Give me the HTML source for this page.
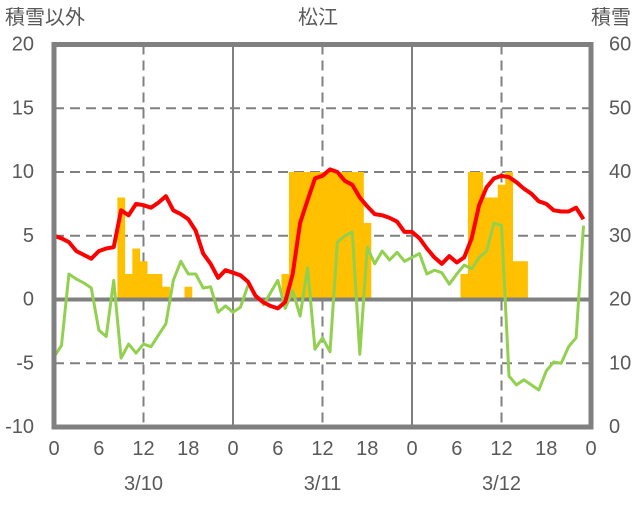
<!DOCTYPE html>
<html><head><meta charset="utf-8"><style>
body{margin:0;background:#fff;}
svg text{font-family:"Liberation Sans","Noto Sans CJK JP",sans-serif;fill:#595959;font-size:20px;}
</style></head><body>
<svg id="chart" width="636" height="501" xmlns="http://www.w3.org/2000/svg">
<g id="grid"></g><g id="bars"></g><g id="lines"></g><g id="frame"></g><g id="labels"></g>
</svg>
<script>
const hours=[...Array(72).keys()];
const leftTicks=[20,15,10,5,0,-5,-10];
const rightTicks=[60,50,40,30,20,10,0];
const xTickLabels=["0","6","12","18","0","6","12","18","0","6","12","18","0"];
const dateLabels=["3/10","3/11","3/12"];
const snowHours=[9,10,11,12,13,14,15,18,31,32,33,34,35,36,37,38,39,40,41,42,55,56,57,58,59,60,61,62,63];
const snowValues=[8,2,4,3,2,2,1,1,2,10,10,10,10,10,10,10,10,10,10,6,2,10,10,8,8,9,10,3,3];
const redValues=[5.0,4.8,4.5,3.8,3.5,3.2,3.8,4.0,4.1,7.0,6.6,7.5,7.4,7.2,7.6,8.1,7.0,6.7,6.3,5.4,3.6,2.8,1.7,2.3,2.1,1.9,1.4,0.3,-0.2,-0.5,-0.7,-0.2,2.0,6.0,7.8,9.5,9.7,10.2,10.0,9.3,9.0,8.0,7.3,6.7,6.6,6.4,6.1,5.3,5.3,4.8,4.0,3.3,2.8,3.4,2.9,3.3,4.8,7.4,8.8,9.5,9.7,9.6,9.2,8.7,8.3,7.7,7.5,7.0,6.9,6.9,7.2,6.3];
const greenValues=[-4.5,-3.6,2.0,1.6,1.3,0.9,-2.4,-2.9,1.5,-4.6,-3.5,-4.2,-3.5,-3.7,-2.8,-1.9,1.5,3.0,2.0,2.0,0.9,1.0,-1.0,-0.5,-1.0,-0.6,1.1,null,-0.5,0.5,1.5,-0.7,0.7,-1.3,2.5,-3.9,-3.0,-4.1,4.5,5.0,5.3,-4.3,4.1,2.8,3.8,3.1,3.7,3.0,3.3,3.6,2.0,2.3,2.1,1.2,2.0,2.7,2.4,3.3,3.8,6.0,5.8,-6.0,-6.7,-6.3,-6.7,-7.1,-5.6,-4.9,-5.0,-3.7,-3.0,5.8];
const purpleValues=hours.map(()=>-10);
const blueValues=[-0.2];
const X0=54,X1=591,Y0=44.5,Y1=427;
const xs=h=>X0+(X1-X0)*h/72;
const yl=v=>Y1-(Y1-Y0)*(v+10)/30;
const yr=v=>Y1-(Y1-Y0)*v/60;
const NS="http://www.w3.org/2000/svg";
function mk(p,t,a){const e=document.createElementNS(NS,t);for(const k in a)e.setAttribute(k,a[k]);document.getElementById(p).appendChild(e);return e;}
leftTicks.forEach(v=>{if(v===20||v===-10)return;
 const e=mk('grid','line',{x1:X0,x2:X1,y1:yl(v),y2:yl(v),stroke:'#808080','stroke-width':v===0?4:2,'stroke-dasharray':v===0?'none':'10 6'});
 
 });
for(let h=12;h<72;h+=12){const solid=h%24===0;
 const e=mk('grid','line',{x1:xs(h),x2:xs(h),y1:Y0,y2:Y1,stroke:'#808080','stroke-width':2,'stroke-dasharray':solid?'none':'10 6'});
 
 }
const bw=(X1-X0)/72;
snowHours.forEach((h,i)=>{const y=yl(snowValues[i]);
 const e=mk('bars','rect',{x:xs(h)-bw/2,y:y,width:bw+0.3,height:yl(0)-y,fill:'#ffc000'});
 
 });
// redraw zero line above bars
const z=mk('bars','line',{x1:X0,x2:X1,y1:yl(0),y2:yl(0),stroke:'#808080','stroke-width':4});


function line(vals,color,w,name){let d='',pen=false;
 vals.forEach((v,i)=>{if(v===null){pen=false;return;}d+=(pen?'L':'M')+xs(i).toFixed(1)+','+yl(v).toFixed(1);pen=true;});
 const e=mk('lines','path',{d:d,fill:'none',stroke:color,'stroke-width':w,'stroke-linejoin':'round'});
 
 }
line(greenValues,'#92d050',3,'green-series-line');
line(redValues,'#ff0000',4,'red-series-line');
line(purpleValues,'#7030a0',3,'purple-series-line');
blueValues.forEach((v,i)=>{const e=mk('lines','rect',{x:xs(i)-2,y:yl(v)-3,width:4,height:6,fill:'#0070c0'});
 
 });
const fr=mk('frame','rect',{x:X0,y:Y0,width:X1-X0,height:Y1-Y0,fill:'none',stroke:'#808080','stroke-width':5});


function txt(x,y,s,anchor,name){const e=mk('labels','text',{x:x,y:y,'text-anchor':anchor,'dominant-baseline':'central'});e.textContent=s;
 
 }
leftTicks.forEach(v=>txt(34,yl(v),String(v),'end','left-tick-'+v));
rightTicks.forEach(v=>txt(609,yr(v),String(v),'start','right-tick-'+v));
xTickLabels.forEach((s,i)=>txt(xs(i*6),449,s,'middle','x-tick-'+i));
dateLabels.forEach((s,i)=>txt(xs(i*24+12),484,s,'middle','date-label-'+i));
txt(5,18,'積雪以外','start','left-axis-title');
txt(318,18,'松江','middle','chart-title');
txt(631,18,'積雪','end','right-axis-title');
</script>
</body></html>
